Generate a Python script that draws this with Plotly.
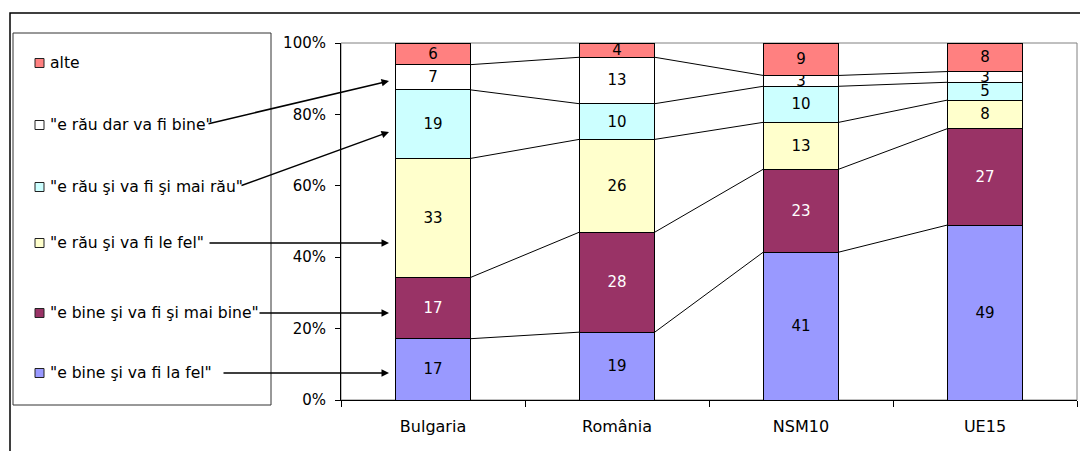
import plotly.graph_objects as go

categories = ["Bulgaria", "România", "NSM10", "UE15"]
series_names = [
    '"e bine şi va fi la fel"',
    '"e bine şi va fi şi mai bine"',
    '"e rău şi va fi le fel"',
    '"e rău şi va fi şi mai rău"',
    '"e rău dar va fi bine"',
    'alte',
]
v_bine_la_fel = [17, 19, 41, 49]
v_bine_mai_bine = [17, 28, 23, 27]
v_rau_le_fel = [33, 26, 13, 8]
v_rau_mai_rau = [19, 10, 10, 5]
v_rau_dar_bine = [7, 13, 3, 3]
v_alte = [6, 4, 9, 8]
series_values = [v_bine_la_fel, v_bine_mai_bine, v_rau_le_fel, v_rau_mai_rau, v_rau_dar_bine, v_alte]
colors = ["#9999FF", "#993366", "#FFFFCC", "#CCFFFF", "#FFFFFF", "#FF8080"]
text_colors = ["black", "white", "black", "black", "black", "black"]
y_ticks = [0, 20, 40, 60, 80, 100]
y_tick_labels = ["0%", "20%", "40%", "60%", "80%", "100%"]

FONT = "DejaVu Sans"
FS = 15
FS_LEG = 15.6
FS_X = 16
OFF = 8  # page body margin
W, H = 1088 - OFF, 451 - OFF
L, T = 341 - OFF, 43 - OFF
R = W - (1077 - OFF)
B = H - (400 - OFF)
PW, PH = W - L - R, H - T - B

def xp(px):  # page pixel -> plot-area fraction
    return (px - OFF - L) / PW

def yp(py):
    return (H - B - (py - OFF)) / PH

BAR_W = 0.41
xs = list(range(len(categories)))

fig = go.Figure()
for name, vals, col, tc in zip(series_names, series_values, colors, text_colors):
    fig.add_trace(go.Bar(
        x=xs, y=vals, name=name, width=BAR_W,
        marker=dict(color=col, line=dict(color="black", width=1)),
        text=[str(v) for v in vals], textposition="inside",
        insidetextanchor="middle", textangle=0,
        textfont=dict(family=FONT, size=FS, color=tc),
        showlegend=False, hoverinfo="skip",
    ))

# series lines connecting the tops of the segments (normalized to 100%)
totals = [sum(s[i] for s in series_values) for i in xs]
cum = [0.0] * len(xs)
for s in series_values[:-1]:
    cum = [cum[i] + s[i] for i in xs]
    lx, ly = [], []
    for i in xs[:-1]:
        lx += [i + BAR_W / 2, i + 1 - BAR_W / 2, None]
        ly += [cum[i] / totals[i] * 100, cum[i + 1] / totals[i + 1] * 100, None]
    fig.add_trace(go.Scatter(x=lx, y=ly, mode="lines",
                             line=dict(color="black", width=1),
                             showlegend=False, hoverinfo="skip"))

shapes = [
    # plot area border
    dict(type="rect", xref="paper", yref="paper", x0=0, x1=1, y0=0, y1=1,
         line=dict(color="#808080", width=1), layer="below"),
    # outer chart border
    dict(type="rect", xref="paper", yref="paper", x0=xp(10), x1=xp(1110),
         y0=yp(480), y1=yp(13), line=dict(color="black", width=1.5)),
    # legend box
    dict(type="rect", xref="paper", yref="paper", x0=xp(13), x1=xp(271),
         y0=yp(405), y1=yp(33), line=dict(color="#333333", width=1)),
]

annotations = []
legend_y = [373, 313, 243, 187, 125, 63]
for name, col, ly in zip(series_names, colors, legend_y):
    shapes.append(dict(type="rect", xref="paper", yref="paper",
                       x0=xp(35), x1=xp(44), y0=yp(ly + 4.5), y1=yp(ly - 4.5),
                       fillcolor=col, line=dict(color="#222222", width=1)))
    annotations.append(dict(xref="paper", yref="paper", x=xp(48), y=yp(ly),
                            text=name, showarrow=False, xanchor="left",
                            yanchor="middle",
                            font=dict(family=FONT, size=FS_LEG, color="black")))

# arrows from legend entries to the Bulgaria bar
arrows = [  # (tail_x, tail_y, head_x, head_y) in page pixels
    (207, 124, 389, 81),
    (240, 186, 389, 132),
    (208, 243, 389, 243),
    (258, 313, 389, 313),
    (222, 373, 389, 373),
]
for tx, ty, hx, hy in arrows:
    annotations.append(dict(xref="x domain", yref="y domain", axref="x domain",
                            ayref="y domain", x=xp(hx), y=yp(hy),
                            ax=xp(tx), ay=yp(ty), text="", showarrow=True,
                            arrowhead=2, arrowsize=1.0, arrowwidth=1.5,
                            arrowcolor="black"))

fig.update_layout(
    barmode="stack", barnorm="percent",
    width=W, height=H,
    margin=dict(l=L, r=R, t=T, b=B),
    paper_bgcolor="white", plot_bgcolor="white",
    font=dict(family=FONT, size=FS, color="black"),
    uniformtext=dict(mode="show", minsize=FS),
    shapes=shapes, annotations=annotations,
    showlegend=False,
)
fig.update_xaxes(
    range=[-0.5, len(categories) - 0.5], tickvals=xs, ticktext=categories,
    showgrid=False, zeroline=False, showline=True, linecolor="black", linewidth=1,
    ticks="", ticklabelstandoff=12,
    minor=dict(tickvals=[i - 0.5 for i in range(len(categories) + 1)],
               ticks="outside", ticklen=6, tickcolor="black", showgrid=False),
    tickfont=dict(family=FONT, size=FS_X, color="black"),
)
fig.update_yaxes(
    range=[0, 100], tickvals=y_ticks, ticktext=y_tick_labels,
    showgrid=False, zeroline=False, showline=True, linecolor="black", linewidth=1,
    ticks="outside", ticklen=5, tickcolor="black", ticklabelstandoff=6,
    tickfont=dict(family=FONT, size=FS, color="black"),
)

fig.write_html("out.html")
